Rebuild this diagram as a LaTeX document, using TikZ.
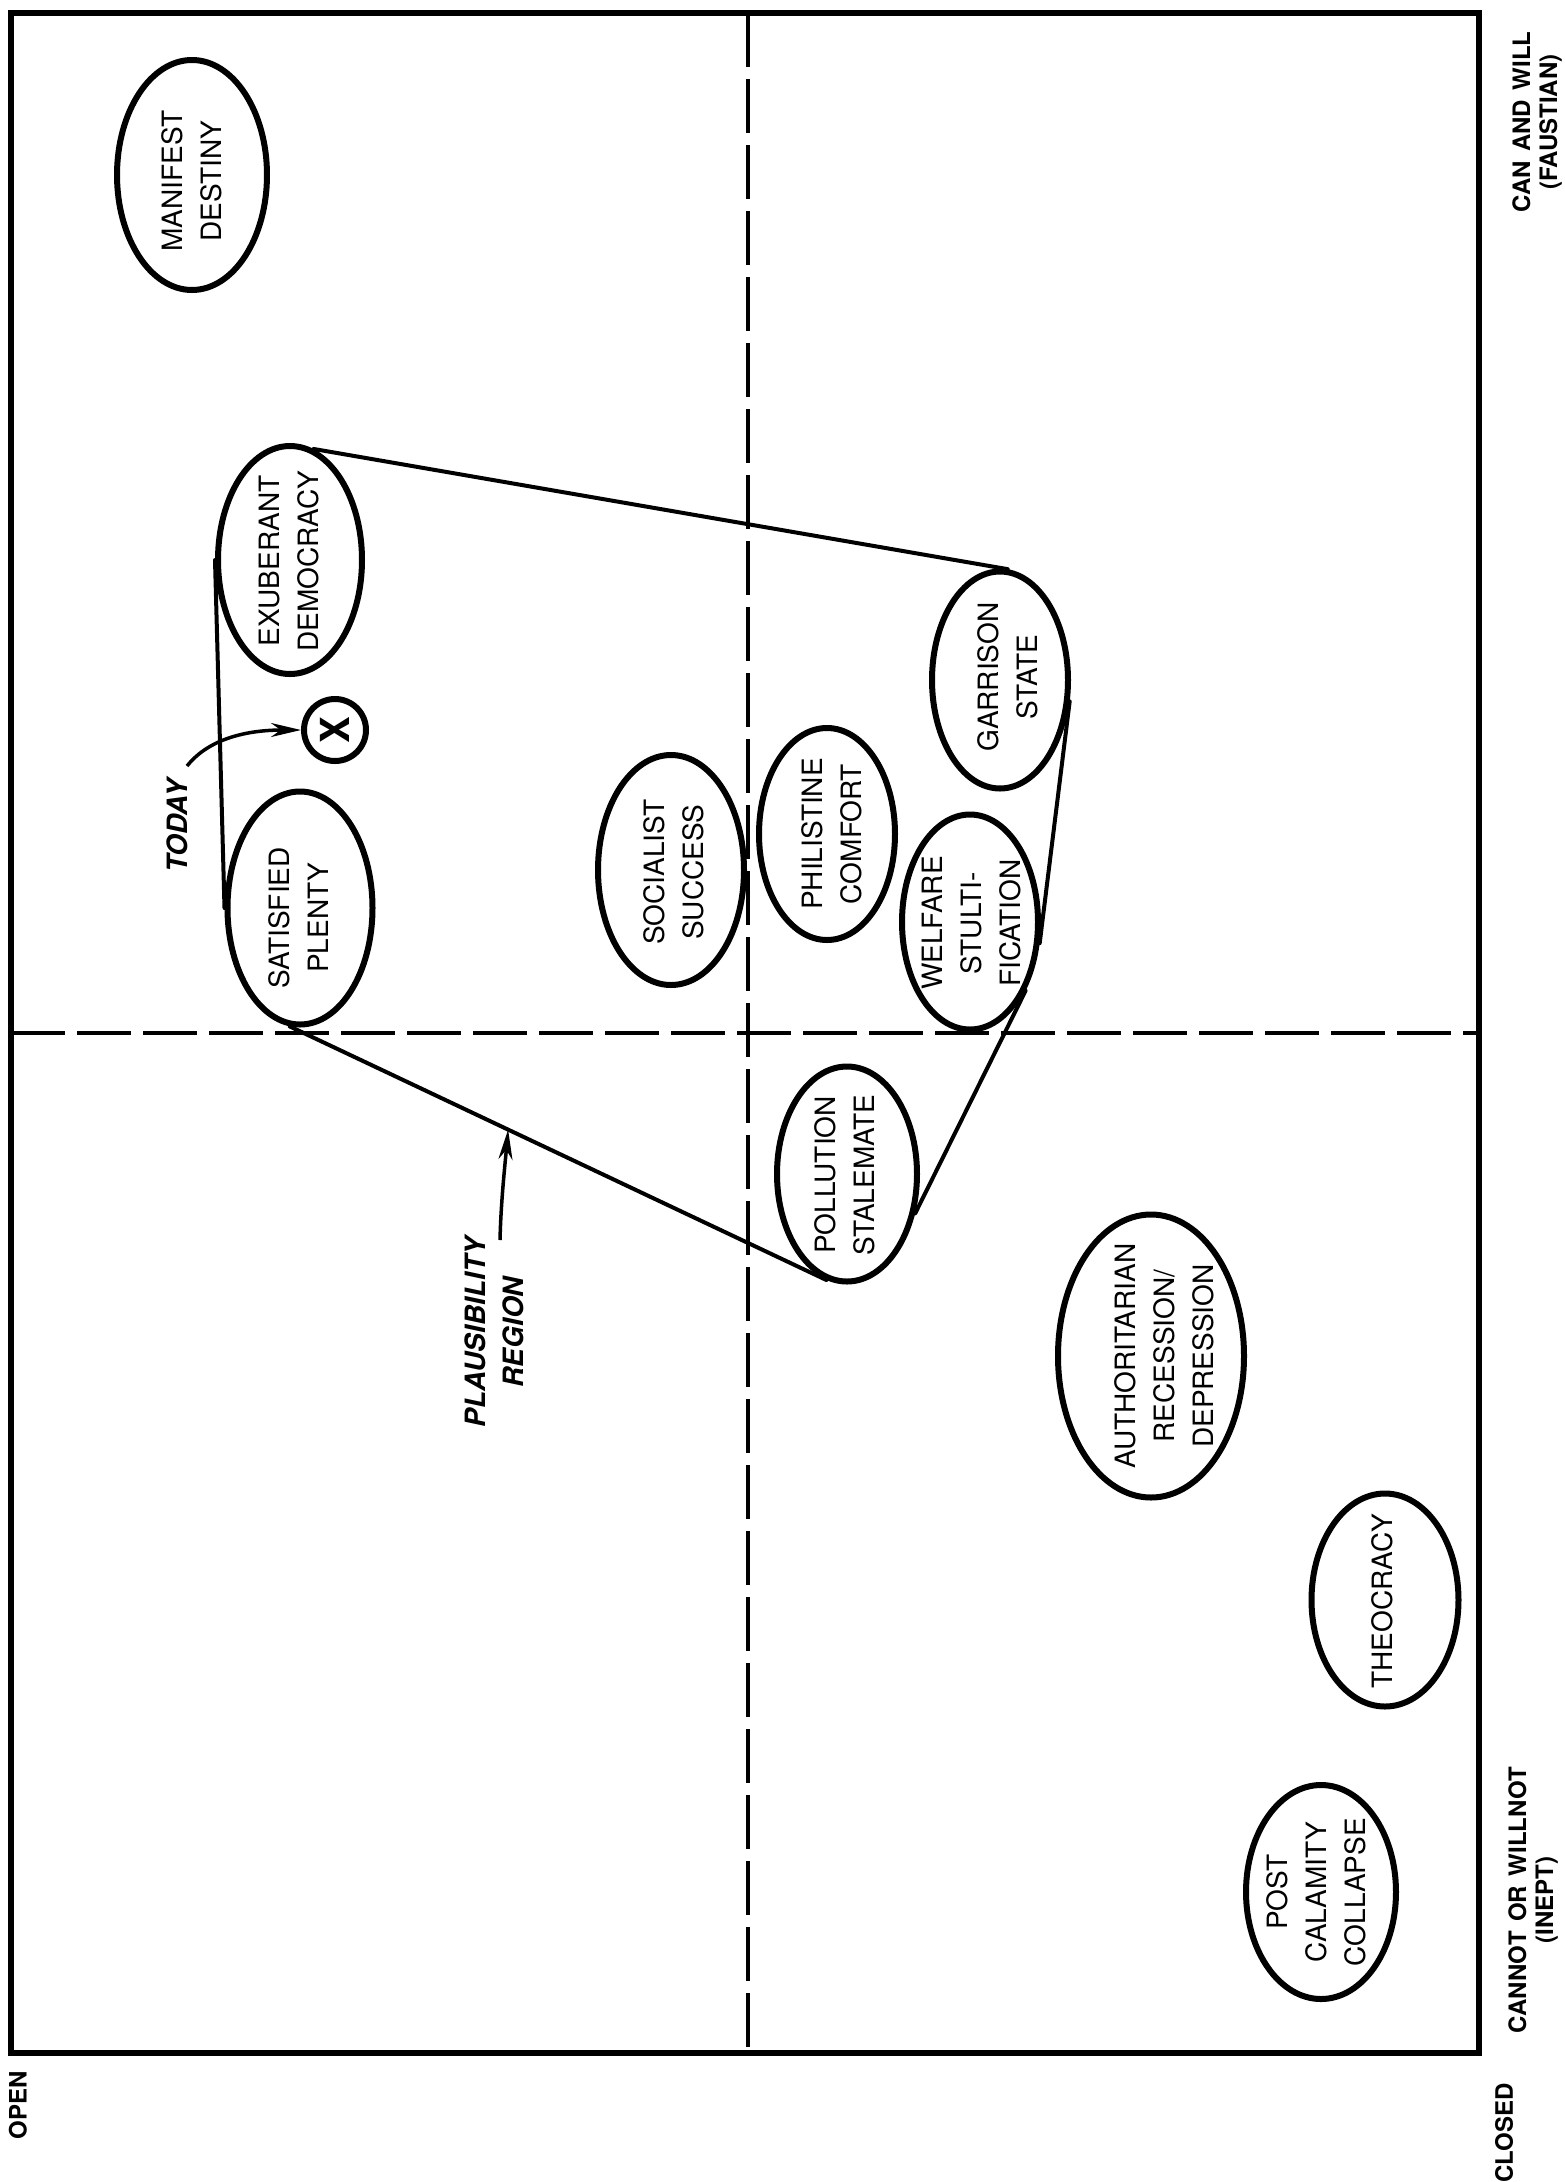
\documentclass[tikz,border=0pt]{standalone}
\usepackage{fontspec}
\setmainfont{TeX Gyre Heros}
\usetikzlibrary{shapes.geometric,arrows.meta,calc}
\begin{document}
\begin{tikzpicture}[x=1pt,y=-1pt,
  ell/.style={ellipse, draw, line width=6pt, inner sep=0pt},
  etxt/.style={rotate=90, align=center, inner sep=0pt, font=\fontsize{28}{39}\selectfont},
  axlab/.style={rotate=90, align=center, inner sep=0pt, font=\fontsize{24}{27}\selectfont\bfseries},
  note/.style={rotate=90, align=center, inner sep=0pt, font=\fontsize{28}{38}\selectfont\bfseries\itshape},
  axisline/.style={line width=4pt, dash pattern=on 54pt off 12pt},
  hull/.style={line width=4pt, line cap=round},
  pointer/.style={line width=3.5pt, -{Stealth[length=30pt,width=14pt]}}]
\useasboundingbox (0,0) rectangle (1564,2182);
\fill[white] (0,0) rectangle (1564,2182);
% frame
\draw[line width=5.5pt] (11,13) rectangle (1479,2053);
% axes
\coordinate (vtop) at (748,13);
\coordinate (vbot) at (748,2053);
\coordinate (hleft) at (11,1033);
\coordinate (hright) at (1479,1033);
\draw[axisline] (vtop) -- (vbot);
\draw[axisline] (hleft) -- (hright);
% ellipses
\node[ell, minimum width=150pt, minimum height=230pt] (md) at (192,175) {};
\node[etxt] (mdt) at (192,181) {MANIFEST\\DESTINY};
\node[ell, minimum width=144pt, minimum height=228pt] (exub) at (290,560) {};
\node[etxt] (exubt) at (289,561) {EXUBERANT\\DEMOCRACY};
\node[ell, minimum width=145pt, minimum height=233pt] (sat) at (300,908) {};
\node[etxt] (satt) at (299,918) {SATISFIED\\PLENTY};
\node[ell, minimum width=146pt, minimum height=230pt] (soc) at (671,870) {};
\node[etxt] (soct) at (674,872) {SOCIALIST\\SUCCESS};
\node[ell, minimum width=136pt, minimum height=212pt] (phil) at (827,834) {};
\node[etxt] (philt) at (832,834) {PHILISTINE\\COMFORT};
\node[ell, minimum width=136pt, minimum height=215pt] (welf) at (970,922) {};
\node[etxt] (welft) at (972,923) {WELFARE\\STULTI-\\FICATION};
\node[ell, minimum width=136pt, minimum height=217pt] (garr) at (1000,680) {};
\node[etxt] (garrt) at (1008,677) {GARRISON\\STATE};
\node[ell, minimum width=140pt, minimum height=215pt] (poll) at (847,1174) {};
\node[etxt] (pollt) at (845,1175) {POLLUTION\\STALEMATE};
\node[ell, minimum width=186pt, minimum height=283pt] (auth) at (1151,1356) {};
\node[etxt] (autht) at (1164,1356) {AUTHORITARIAN\\RECESSION/\\DEPRESSION};
\node[ell, minimum width=147pt, minimum height=213pt] (theo) at (1385,1600) {};
\node[etxt] (theot) at (1382,1601) {THEOCRACY};
\node[ell, minimum width=150pt, minimum height=214pt] (post) at (1321,1892) {};
\node[etxt] (postt) at (1316,1892) {POST\\CALAMITY\\COLLAPSE};
% today marker
\node[circle, draw, line width=6pt, minimum size=62pt, inner sep=0pt, rotate=90,
      font=\fontsize{40}{40}\selectfont\bfseries] (now) at (335,730) {X};
% plausibility region
\draw[hull] (sat.180) -- (exub.180);
\draw[hull] (exub.78) -- (garr.86);
\draw[hull] (garr.-17) -- (welf.-17);
\draw[hull] (welf.-51) -- (poll.-30);
\draw[hull] (poll.-101) -- (sat.-95);
% notes
\node[note] (today) at (177,826) {TODAY};
\coordinate (todaytail) at (187,766);
\draw[pointer] (todaytail) .. controls (206,742) and (240,730) .. (now.north);
\node[note] (plaus) at (494,1332) {PLAUSIBILITY\\REGION};
\coordinate (plaustail) at (500,1240);
\coordinate (ptip) at ($(poll.-101)!0.593!(sat.-95)$);
\draw[pointer] (plaustail) .. controls (501,1200) and (505,1165) .. (ptip);
% axis labels
\node[axlab] (open) at (18,2105) {OPEN};
\node[axlab] (closed) at (1504,2133) {CLOSED};
\node[axlab] (cannot) at (1533,1900) {CANNOT\hspace{0.4em}OR\hspace{0.4em}WILLNOT\\(INEPT)};
\node[axlab] (canwill) at (1537,122) {CAN\hspace{0.4em}AND\hspace{0.4em}WILL\\(FAUSTIAN)};
\end{tikzpicture}
\end{document}
